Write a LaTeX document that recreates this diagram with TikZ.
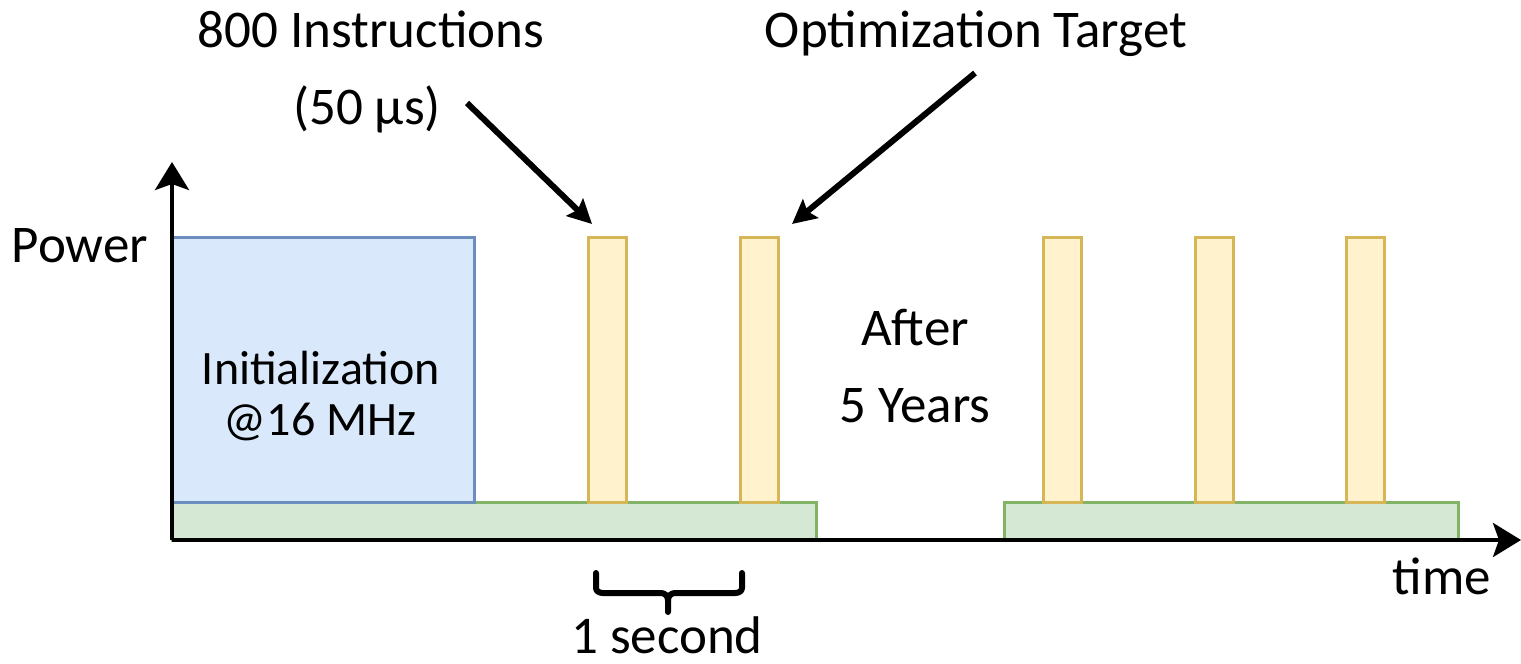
\documentclass[tikz,border=0pt]{standalone}
\usepackage{fontspec}
\setmainfont{Carlito}
\usetikzlibrary{arrows.meta}
\definecolor{bfill}{HTML}{DAE8FC}\definecolor{bdraw}{HTML}{6C8EBF}
\definecolor{yfill}{HTML}{FFF2CC}\definecolor{ydraw}{HTML}{D6B656}
\definecolor{gfill}{HTML}{D5E8D4}\definecolor{gdraw}{HTML}{82B366}
\tikzset{
  box/.style={rectangle, inner sep=0pt, line width=1.5pt},
  initbox/.style={box, fill=bfill, draw=bdraw, minimum width=151pt, minimum height=132.5pt},
  sleepbox/.style={box, fill=gfill, draw=gdraw, minimum height=19pt},
  bar/.style={box, fill=yfill, draw=ydraw, minimum width=19pt, minimum height=132.5pt},
  lbl/.style={font=\fontsize{26.5}{30}\selectfont, inner sep=0pt, anchor=base},
  smalllbl/.style={lbl, font=\fontsize{24}{28}\selectfont},
  axis/.style={line width=2pt, -{Stealth[length=14pt, width=17pt, inset=3pt]}},
  pointer/.style={line width=3pt, -{Stealth[length=12pt, width=12pt, inset=2pt]}},
}
\begin{document}
\begin{tikzpicture}[x=0.5pt, y=-0.5pt]
\useasboundingbox (0,0) rectangle (1521,664);
% sleep bands
\node[sleepbox, minimum width=322pt] (s1) at (494,521) {};
\node[sleepbox, minimum width=227pt] (s2) at (1231,521) {};
% init
\node[initbox] (init) at (323,369.5) {};
\node[smalllbl] (inittxt1) at (321,384) {Initialization};
\node[smalllbl] (inittxt2) at (320,435) {@16 MHz};
% bars
\node[bar] (b1) at (607,369.5) {};
\node[bar] (b2) at (759,369.5) {};
\node[bar] (b3) at (1062,369.5) {};
\node[bar] (b4) at (1214,369.5) {};
\node[bar] (b5) at (1365,369.5) {};
% axes
\coordinate (o) at (172,540);
\coordinate (ytip) at (172,162);
\coordinate (xtip) at (1521,540);
\draw[axis] (o) -- (ytip);
\draw[axis] (o) -- (xtip);
% labels
\node[lbl] (power) at (80,262) {Power};
\node[lbl] (time) at (1442,594) {time};
\node[lbl] (after1) at (915,345) {After};
\node[lbl] (after2) at (915,422) {5 Years};
\node[lbl] (instr) at (371,47) {800 Instructions};
\node[lbl] (us) at (367,124) {(50 µs)};
\node[lbl] (opt) at (976,47) {Optimization Target};
\node[lbl] (sec) at (667,653) {1 second};
% pointers
\coordinate (p1s) at (467,103);
\coordinate (p1e) at (592,224);
\coordinate (p2s) at (975,73);
\coordinate (p2e) at (792,224);
\draw[pointer] (p1s) -- (p1e);
\draw[pointer] (p2s) -- (p2e);
% brace
\coordinate (bl) at (596,573);
\coordinate (br) at (742,573);
\coordinate (bm) at (668,612);
\draw[line width=3pt, line cap=round, line join=round]
  (bl) -- (596,588) to[out=-90,in=180] (603,593) -- (661,593) to[out=0,in=90] (668,600) -- (bm);
\draw[line width=3pt, line cap=round, line join=round]
  (br) -- (742,588) to[out=-90,in=0] (735,593) -- (675,593) to[out=180,in=90] (668,600);
\end{tikzpicture}
\end{document}
